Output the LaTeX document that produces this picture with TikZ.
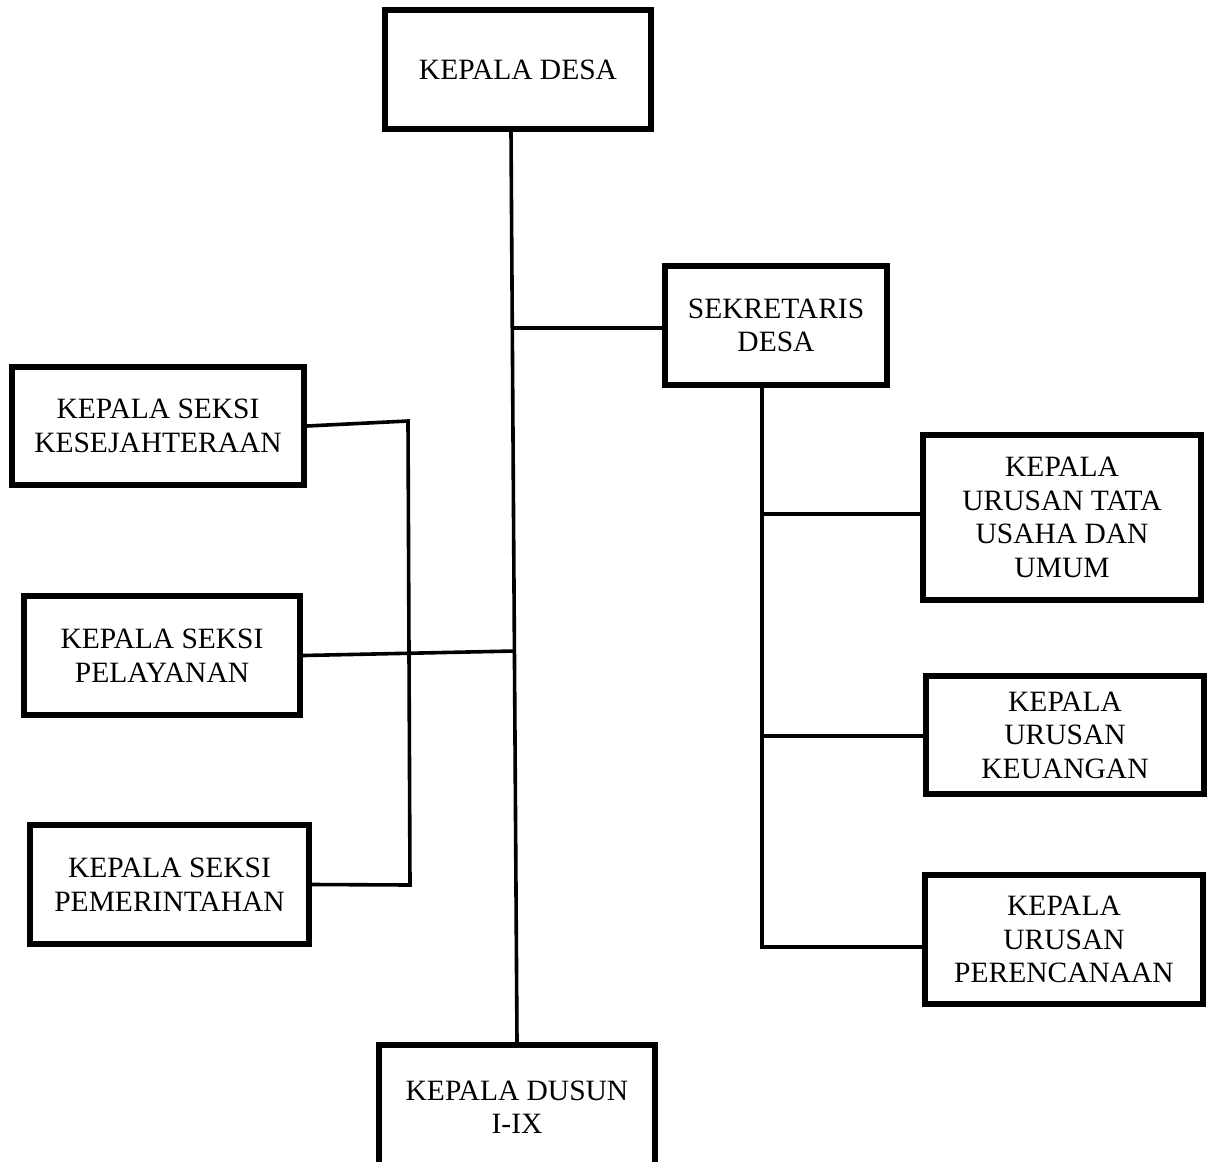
\documentclass[tikz,border=0pt]{standalone}
\usepackage{fontspec}
\setmainfont{Liberation Serif}
\usepackage{tikz}
\usetikzlibrary{positioning}
\tikzset{
 box/.style
  = {rectangle, draw, line width=6pt, inner sep=0pt, align=center,
     font=\fontsize{29.5}{33.5}\selectfont},
 ln/.style
  = {draw, line width=3.6pt},
}

\begin{document}
\begin{tikzpicture}[x=1pt, y=-1pt]

\useasboundingbox (0,0) rectangle (1213,1162);

% Kepala desa and dusun
\node[box, minimum width=266pt, minimum height=119pt] (desa) at (518,69.5) {KEPALA DESA};
\node[box, minimum width=276pt, minimum height=124pt] (dusun) at (517,1107) {KEPALA DUSUN\\I-IX};

% Sekretaris
\node[box, minimum width=222pt, minimum height=119pt] (sek) at (776,325.5) {SEKRETARIS\\DESA};

% Kepala seksi
\node[box, minimum width=292pt, minimum height=118pt] (kes) at (158,426) {KEPALA SEKSI\\KESEJAHTERAAN};
\node[box, minimum width=276pt, minimum height=119pt] (pel) at (162,655.5) {KEPALA SEKSI\\PELAYANAN};
\node[box, minimum width=279pt, minimum height=119pt] (pem) at (169.5,884.5) {KEPALA SEKSI\\PEMERINTAHAN};

% Kepala urusan
\node[box, minimum width=278pt, minimum height=165pt] (tata) at (1062,517.5) {KEPALA\\URUSAN TATA\\USAHA DAN\\UMUM};
\node[box, minimum width=278pt, minimum height=118pt] (keu) at (1065,735) {KEPALA\\URUSAN\\KEUANGAN};
\node[box, minimum width=278pt, minimum height=129pt] (ren) at (1064,939.5) {KEPALA\\URUSAN\\PERENCANAAN};

% Joints
\coordinate (t1) at (512.5,328);
\coordinate (t2) at (515,651);
\coordinate (b1) at (408,421);
\coordinate (b3) at (410,885);
\coordinate (s1) at (762,514);
\coordinate (s2) at (762,736);
\coordinate (s3) at (762,947);

% Main line
\draw[ln] ([xshift=-7pt]desa.south) -- (dusun.north);
\draw[ln] (t1) -- (t1 -| sek.west);

% Left side
\draw[ln] (kes.east) -- (b1) -- (b3) -- (pem.east);
\draw[ln] (pel.east) -- (t2);

% Right side
\draw[ln] ([xshift=-14pt]sek.south) -- (s3) -- (s3 -| ren.west);
\draw[ln] (s1) -- (s1 -| tata.west);
\draw[ln] (s2) -- (s2 -| keu.west);

\end{tikzpicture}
\end{document}
